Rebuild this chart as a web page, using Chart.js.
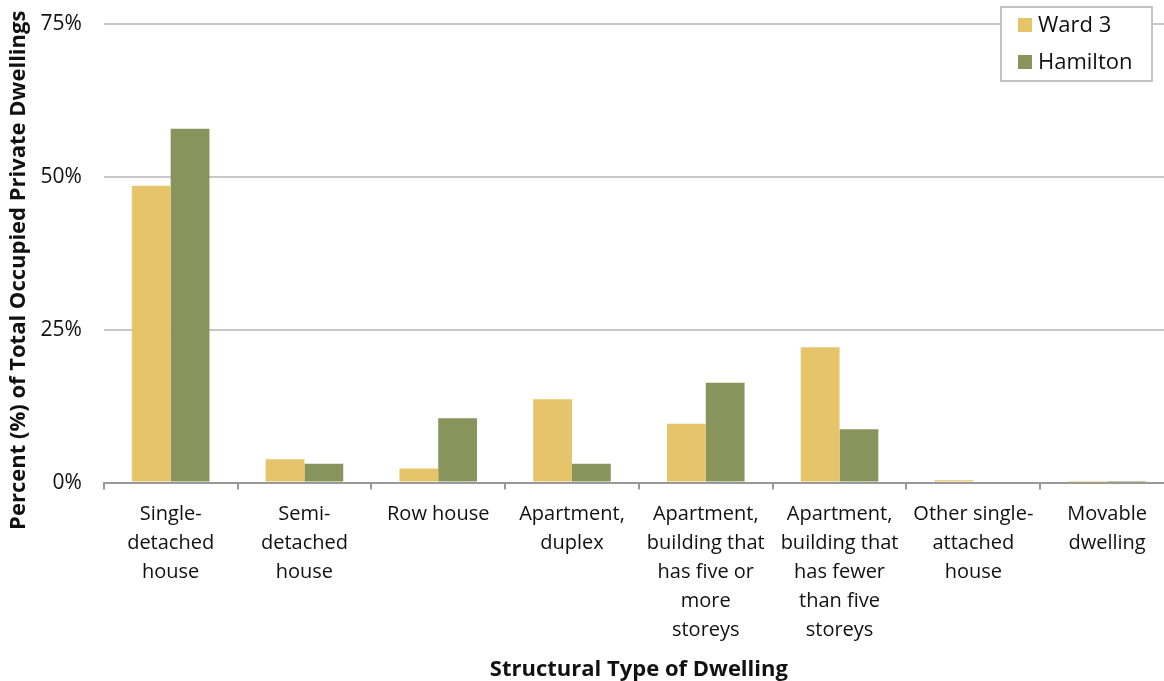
<!DOCTYPE html>
<html>
<head>
<meta charset="utf-8">
<script src="https://cdn.jsdelivr.net/npm/chart.js@4.4.0/dist/chart.umd.min.js"></script>
<style>
  html, body { margin: 0; padding: 0; background: #fff; overflow: hidden; }
  #wrap { width: 1174px; height: 692px; margin-top: -11px; }
</style>
</head>
<body>
<div id="wrap"><canvas id="chart" width="1174" height="692"></canvas></div>
<script>
// dwelling types on the x axis
const categories = [
    ['Single-', 'detached', 'house'],
    ['Semi-', 'detached', 'house'],
    ['Row house'],
    ['Apartment,', 'duplex'],
    ['Apartment,', 'building that', 'has five or', 'more', 'storeys'],
    ['Apartment,', 'building that', 'has fewer', 'than five', 'storeys'],
    ['Other single-', 'attached', 'house'],
    ['Movable', 'dwelling']
];
const ward3 = [48.5, 3.8, 2.3, 13.6, 9.6, 22.1, 0.4, 0.05];
const hamilton = [57.8, 3.1, 10.5, 3.1, 16.3, 8.7, 0.2, 0.1];
const yTicks = [0, 25, 50, 75];

const FONT = "'Open Sans', 'Noto Sans', sans-serif";
const TEXT = '#111';

// boxed legend in the top right corner, like the original
// (canvas sits 11px above the page top, hence the offset)
const boxLegend = {
    id: 'boxLegend',
    afterDraw(chart) {
        const ctx = chart.ctx;
        const x = 1001, y = 18, w = 151, h = 74;
        ctx.save();
        ctx.fillStyle = '#fff';
        ctx.fillRect(x, y, w, h);
        ctx.strokeStyle = '#c4c4c4';
        ctx.lineWidth = 2;
        ctx.strokeRect(x, y, w, h);
        ctx.font = '22px ' + FONT;
        ctx.textBaseline = 'middle';
        chart.data.datasets.forEach((ds, i) => {
            const cy = y + 18 + i * 37;
            ctx.fillStyle = ds.backgroundColor;
            ctx.fillRect(x + 17, cy - 7, 14, 14);
            ctx.fillStyle = TEXT;
            ctx.fillText(ds.label, x + 37, cy + 1);
        });
        ctx.restore();
    }
};

new Chart(document.getElementById('chart'), {
    type: 'bar',
    data: {
        labels: categories,
        datasets: [
            { label: 'Ward 3', data: ward3, backgroundColor: '#E6C46A' },
            { label: 'Hamilton', data: hamilton, backgroundColor: '#87955C' }
        ]
    },
    options: {
        responsive: false,
        animation: false,
        layout: { padding: { top: 0, left: 0, right: 0, bottom: 0 } },
        datasets: {
            bar: { barPercentage: 1, categoryPercentage: 0.58 }
        },
        scales: {
            x: {
                grid: {
                    display: true,
                    drawOnChartArea: false,
                    drawTicks: true,
                    tickLength: 7,
                    color: '#999',
                    lineWidth: 2,
                    offset: true
                },
                border: { display: true, color: '#999', width: 2 },
                ticks: {
                    color: TEXT,
                    font: { family: FONT, size: 20, lineHeight: 1.45 },
                    maxRotation: 0,
                    autoSkip: false,
                    padding: 10
                },
                title: {
                    display: true,
                    text: 'Structural Type of Dwelling',
                    color: TEXT,
                    font: { family: FONT, size: 22, weight: 'bold' },
                    padding: { top: 2, bottom: -2 }
                }
            },
            y: {
                min: 0,
                max: 75,
                afterBuildTicks(scale) {
                    scale.ticks = yTicks.map(v => ({ value: v }));
                },
                grid: {
                    color: '#c8c8c8',
                    lineWidth: 2,
                    drawTicks: false
                },
                border: { display: false },
                ticks: {
                    color: TEXT,
                    font: { family: FONT, size: 21 },
                    padding: 22,
                    callback: v => v + '%'
                },
                title: {
                    display: true,
                    text: 'Percent (%) of Total Occupied Private Dwellings      ',
                    color: TEXT,
                    font: { family: FONT, size: 22, weight: 'bold' },
                    padding: { top: 6, bottom: -14 }
                }
            }
        },
        plugins: {
            legend: { display: false },
            tooltip: { enabled: false }
        }
    },
    plugins: [boxLegend]
});
</script>
</body>
</html>
